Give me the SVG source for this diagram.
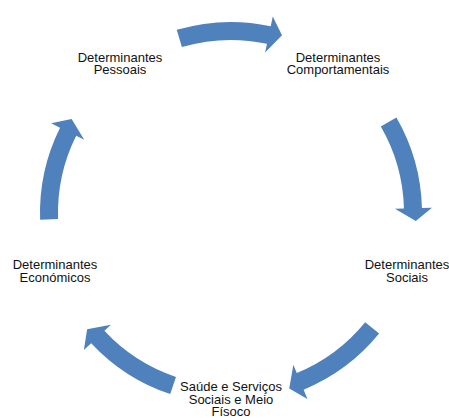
<svg xmlns="http://www.w3.org/2000/svg" xmlns:xlink="http://www.w3.org/1999/xlink" width="449" height="418" viewBox="0 0 449 418">
  <style>
    .lbl { font-family: "Liberation Sans", Arial, sans-serif; font-size: 13px; fill: #111111; text-anchor: middle; }
    .arrow { fill: #4F81BD; }
  </style>
  <defs>
    <path id="arr" d="M181.86,47.12 L176.75,29.87 A191,191 0 0 1 270.71,26.17 L272.79,16.39 L281.99,35.17 L265.10,52.58 L266.97,43.78 A173,173 0 0 0 181.86,47.12 Z"/>
  </defs>
  <rect width="449" height="418" fill="#ffffff"/>
  <g id="connectors">
    <use xlink:href="#arr" href="#arr" class="arrow" transform="rotate(0 231 213)"/>
    <use xlink:href="#arr" href="#arr" class="arrow" transform="rotate(76.5 231 213)"/>
    <use xlink:href="#arr" href="#arr" class="arrow" transform="rotate(145.65 231 213)"/>
    <use xlink:href="#arr" href="#arr" class="arrow" transform="rotate(215.05 231 213)"/>
    <use xlink:href="#arr" href="#arr" class="arrow" transform="rotate(284.5 231 213)"/>
  </g>
  <g id="node-pessoais">
    <text class="lbl" x="120" y="62">Determinantes<tspan x="120" dy="12">Pessoais</tspan></text>
  </g>
  <g id="node-comportamentais">
    <text class="lbl" x="338" y="62">Determinantes<tspan x="338" dy="12">Comportamentais</tspan></text>
  </g>
  <g id="node-sociais">
    <text class="lbl" x="407" y="269">Determinantes<tspan x="407" dy="12.5">Sociais</tspan></text>
  </g>
  <g id="node-saude">
    <text class="lbl" x="231" y="391">Saúde e Serviços<tspan x="231" dy="12.5">Sociais e Meio</tspan><tspan x="231" dy="12.5">Físoco</tspan></text>
  </g>
  <g id="node-economicos">
    <text class="lbl" x="55" y="269">Determinantes<tspan x="55" dy="12.5">Económicos</tspan></text>
  </g>
</svg>
